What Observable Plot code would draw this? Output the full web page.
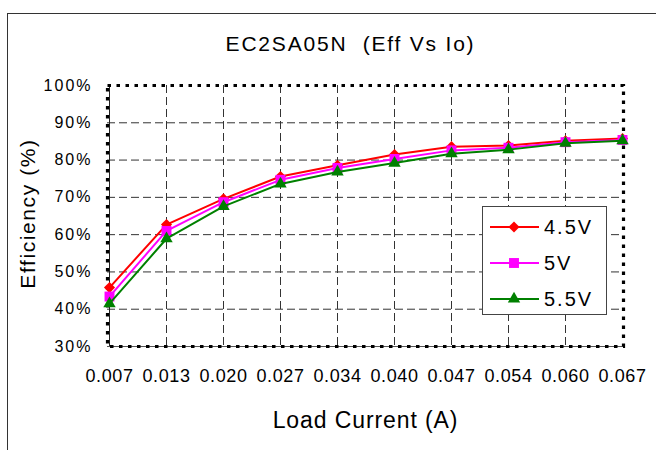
<!DOCTYPE html>
<html>
<head>
<meta charset="utf-8">
<script src="https://cdn.jsdelivr.net/npm/d3@7"></script>
<script src="https://cdn.jsdelivr.net/npm/@observablehq/plot@0.6"></script>
<style>
  html, body { margin: 0; padding: 0; background: #fff; overflow: hidden; width: 656px; height: 450px; }
  #wrap { position: relative; width: 656px; height: 450px; font-family: "Liberation Sans", Arial, sans-serif; }
  #outer { position: absolute; left: 7px; top: 13px; width: 800px; height: 600px; border-left: 1.5px solid #333; border-top: 1.5px solid #333; }
  #chart { position: absolute; left: 0; top: 0; }
  #legend { position: absolute; left: 482px; top: 206px; width: 125px; height: 109px; border: 1.2px solid #444; background: #fff; box-sizing: border-box; }
  .lrow { position: absolute; left: 0; height: 24px; display: flex; align-items: center; }
  .lrow svg { display: block; }
  .lrow span { font-size: 20px; letter-spacing: 2px; margin-left: 3px; color: #000; }
</style>
</head>
<body>
<div id="wrap">
  <div id="outer"></div>
  <div id="chart"></div>
  <div id="legend"></div>
</div>
<script>
const title = "EC2SA05N  (Eff Vs Io)";
const xTitle = "Load Current (A)";
const yTitle = "Efficiency (%)";
const categories = ["0.007", "0.013", "0.020", "0.027", "0.034", "0.040", "0.047", "0.054", "0.060", "0.067"];
const yTicks = [30, 40, 50, 60, 70, 80, 90, 100];
const seriesNames = ["4.5V", "5V", "5.5V"];
const seriesColors = ["#FF0000", "#FF00FF", "#008000"];
const seriesSymbols = ["diamond2", "square", "triangle"];
const eff45 = [45.8, 62.7, 69.6, 75.6, 78.6, 81.5, 83.6, 83.9, 85.2, 85.8];
const eff50 = [43.4, 61.0, 68.7, 74.7, 77.9, 80.3, 82.6, 83.3, 84.8, 85.4];
const eff55 = [41.5, 58.9, 67.6, 73.6, 76.8, 79.2, 81.7, 82.8, 84.5, 85.2];

const seriesValues = [eff45, eff50, eff55];
const data = [];
seriesValues.forEach((vals, s) => {
  vals.forEach((v, i) => data.push({series: seriesNames[s], x: categories[i], y: v}));
});
const symbolR = {"diamond2": 5, "square": 5.6, "triangle": 4.6};

const marks = [
  Plot.ruleY(yTicks.slice(1, -1), {stroke: "#333", strokeWidth: 1, strokeDasharray: "8,4"}),
  Plot.ruleX(categories.slice(1, -1), {stroke: "#333", strokeWidth: 1, strokeDasharray: "8,4"}),
  Plot.ruleX([categories[0]], {stroke: "#222", strokeWidth: 1}),
  Plot.ruleY([yTicks[0]], {stroke: "#555", strokeWidth: 1}),
  Plot.frame({stroke: "#000", strokeWidth: 3.2, strokeDasharray: "3.5,5.5"}),
  Plot.axisY({ticks: yTicks, tickSize: 0, tickPadding: 15, tickFormat: d => d + "%", fontSize: 16, label: null}),
  Plot.axisX({tickSize: 0, tickPadding: 23, fontSize: 18, label: null}),
  Plot.text([title], {frameAnchor: "top", textAnchor: "middle", dy: -49, dx: -15, fontSize: 21, fill: "#000"}),
  Plot.text([xTitle], {frameAnchor: "bottom", textAnchor: "middle", dy: 81, dx: 0, fontSize: 23, fill: "#000"}),
  Plot.text([yTitle], {frameAnchor: "left", textAnchor: "middle", dx: -79, dy: -2.5, rotate: -90, fontSize: 21, fill: "#000"})
];
seriesNames.forEach((name, s) => {
  const d = data.filter(r => r.series === name);
  marks.push(Plot.line(d, {x: "x", y: "y", stroke: seriesColors[s], strokeWidth: 2}));
  marks.push(Plot.dot(d, {x: "x", y: "y", symbol: () => seriesSymbols[s], fill: seriesColors[s], stroke: "none", r: symbolR[seriesSymbols[s]]}));
});

const chart = Plot.plot({
  width: 656,
  height: 450,
  marginLeft: 107,
  marginRight: 33,
  marginTop: 85,
  marginBottom: 104,
  style: {fontFamily: "'Liberation Sans', Arial, sans-serif", color: "#000", background: "transparent"},
  x: {type: "point", domain: categories, padding: 0, axis: null},
  y: {domain: [30, 100], axis: null},
  symbol: {type: "identity"},
  marks
});
document.getElementById("chart").appendChild(chart);

// letter spacing to mimic the wider original lettering
d3.select(chart).selectAll("text").each(function() {
  const t = this.textContent;
  let ls = null;
  if (t === title) ls = 1.8;
  else if (t === xTitle) ls = 0.9;
  else if (t === yTitle) ls = 1.6;
  else if (categories.includes(t)) ls = 0.6;
  else if (/^\d+%$/.test(t)) ls = 2;
  if (ls !== null) this.style.letterSpacing = ls + "px";
});

// legend
const legend = document.getElementById("legend");
const rowTops = [8, 44, 80];
seriesNames.forEach((name, s) => {
  const row = document.createElement("div");
  row.className = "lrow";
  row.style.top = rowTops[s] + "px";
  const svg = d3.create("svg").attr("width", 58).attr("height", 24);
  svg.append("line").attr("x1", 7).attr("x2", 56).attr("y1", 12).attr("y2", 12)
    .attr("stroke", seriesColors[s]).attr("stroke-width", 2);
  const sym = {diamond2: d3.symbolDiamond2, square: d3.symbolSquare, triangle: d3.symbolTriangle}[seriesSymbols[s]];
  const r = symbolR[seriesSymbols[s]];
  svg.append("path").attr("transform", "translate(31,12)")
    .attr("d", d3.symbol(sym, Math.PI * r * r)()).attr("fill", seriesColors[s]);
  row.appendChild(svg.node());
  const span = document.createElement("span");
  span.textContent = name;
  row.appendChild(span);
  legend.appendChild(row);
});
</script>
</body>
</html>
